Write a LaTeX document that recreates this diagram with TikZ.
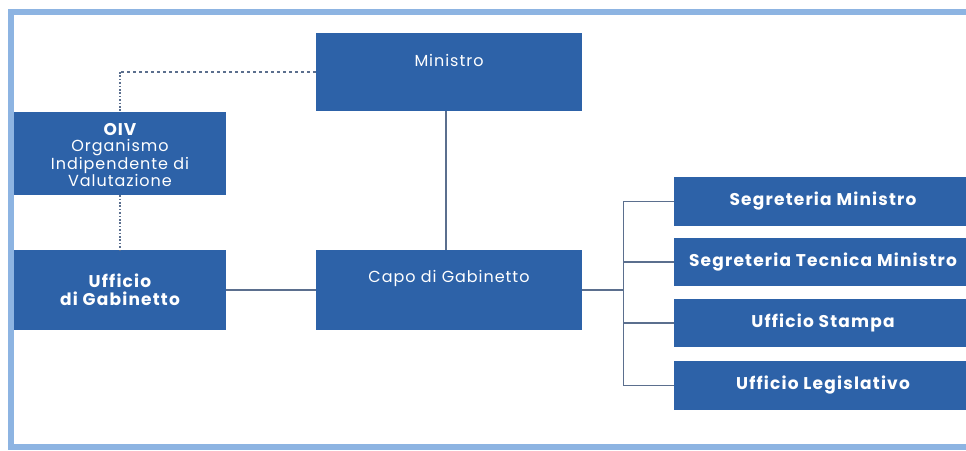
\documentclass[tikz,border=0pt]{standalone}
\usepackage{fontspec}
\setmainfont{Poppins}
\usetikzlibrary{calc}
\definecolor{boxblu}{HTML}{2D62A8}
\definecolor{framebl}{HTML}{8DB4E2}
\definecolor{linegr}{HTML}{5B6F8E}
\tikzset{
    ufficio/.style={fill=boxblu, inner sep=0pt},
    testo/.style={text=white, align=center, font=\fontsize{16}{16}\selectfont\addfontfeature{LetterSpace=6}},
    testob/.style={testo, font=\fontsize{17}{17.5}\selectfont\bfseries\addfontfeature{LetterSpace=7}},
    filo/.style={draw=linegr, line width=1.3pt},
    tratt/.style={filo, dash pattern=on 3pt off 3pt},
    punt/.style={filo, dash pattern=on 1.6pt off 1.8pt}
}

\begin{document}
\begin{tikzpicture}[x=1pt, y=-1pt]
            \useasboundingbox (0,0) rectangle (966,450);
            \draw[framebl, line width=6pt] (10.5,12) rectangle (1000,446.5);
            \node[ufficio, minimum width=266pt, minimum height=78pt] (MIN) at (449, 72) {};
            \node[ufficio, minimum width=212pt, minimum height=83pt] (OIV) at (120, 153.5) {};
            \node[ufficio, minimum width=212pt, minimum height=80pt] (GAB) at (120, 290) {};
            \node[ufficio, minimum width=266pt, minimum height=80pt] (CAPO) at (449, 290) {};
            \node[ufficio, minimum width=300pt, minimum height=49pt] (SM) at (824, 201.5) {};
            \node[ufficio, minimum width=300pt, minimum height=48pt] (STM) at (824, 262) {};
            \node[ufficio, minimum width=300pt, minimum height=48pt] (US) at (824, 323) {};
            \node[ufficio, minimum width=300pt, minimum height=49pt] (UL) at (824, 385.5) {};
            \node[testo] (MINt) at ($(MIN) - (0, 12)$) {Ministro};
            \node[testo] (OIVt) at ($(OIV) + (0, 1.5)$) {{\bfseries\fontsize{17}{16}\selectfont OIV}\\Organismo\\Indipendente di\\Valutazione};
            \node[testob] (GABt) at (GAB) {Ufficio\\di Gabinetto};
            \node[testo] (CAPOt) at ($(CAPO) - (0, 12)$) {Capo di Gabinetto};
            \node[testob] (SMt) at ($(SM) - (1, 0)$) {Segreteria Ministro};
            \node[testob] (STMt) at ($(STM) - (1, 0)$) {Segreteria Tecnica Ministro};
            \node[testob] (USt) at ($(US) - (1, 0)$) {Ufficio Stampa};
            \node[testob] (ULt) at ($(UL) - (1, 0)$) {Ufficio Legislativo};
            \draw[filo] (MIN.south -| 446, 0) -- (CAPO.north -| 446, 0);
            \draw[filo] (GAB.east) -- (CAPO.east -| CAPO.west);
            \draw[filo] (CAPO.east) -- ++(41, 0) coordinate (BUS);
            \draw[filo] (BUS |- SM.west) -- (BUS |- UL.west);
            \foreach \b in {SM, STM, US, UL}
                \draw[filo] (BUS |- \b.west) -- (\b.west);
            \draw[tratt] (MIN.west) -- (MIN.west -| OIV.north) coordinate (ANG);
            \draw[punt] (ANG) -- (OIV.north);
            \draw[punt] (OIV.south) -- (GAB.north);
        \end{tikzpicture}
\end{document}
